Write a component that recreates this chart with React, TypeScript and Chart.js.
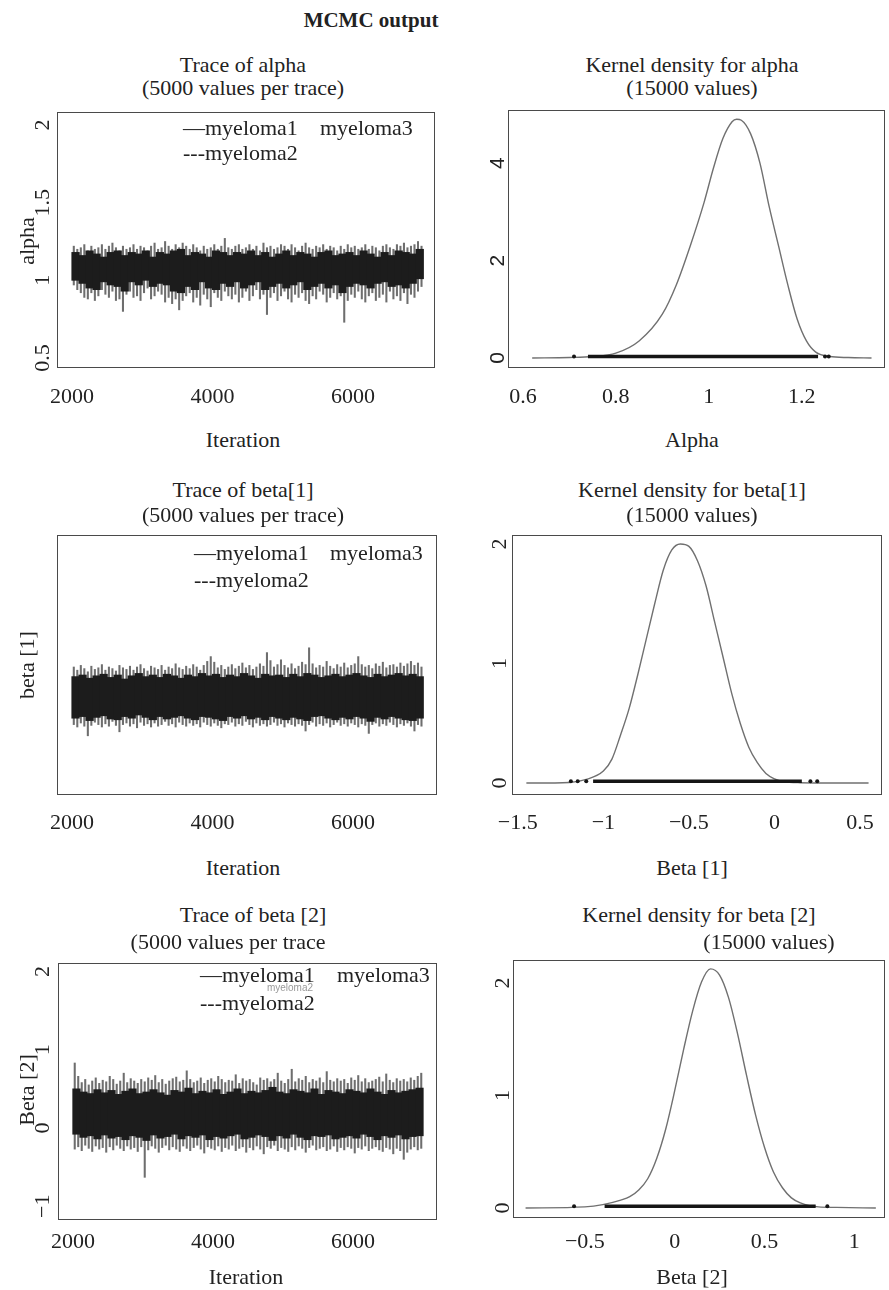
import React, { useEffect, useRef } from "react";
import { Chart, registerables } from "chart.js";

Chart.register(...registerables);

const SERIF = '"Liberation Serif", "Times New Roman", serif';
const SANS = '"Liberation Sans", Arial, sans-serif';

// ---------- trace panels ----------
// core band: 50 bins of 100 iterations; spikes: 100 bins of 50 iterations
const coreBins: number[] = Array.from({ length: 50 }, (_, i) => 2050 + 100 * i);
const spikeBins: number[] = Array.from({ length: 100 }, (_, i) => 2025 + 50 * i);
const traceXTicks = [2000, 4000, 6000];
const traceXTickLabels = ["2000", "4000", "6000"];

// alpha
const alphaSpikeHi = [1.22,1.20,1.21,1.23,1.19,1.22,1.20,1.21,1.23,1.20,1.22,1.24,1.21,1.19,1.22,1.20,1.21,1.23,1.20,1.22,
  1.21,1.19,1.22,1.24,1.20,1.21,1.25,1.22,1.20,1.23,1.21,1.24,1.22,1.20,1.23,1.21,1.19,1.22,1.20,1.21,
  1.23,1.20,1.22,1.27,1.21,1.20,1.22,1.23,1.20,1.21,1.23,1.20,1.22,1.19,1.24,1.21,1.22,1.20,1.21,1.23,
  1.22,1.20,1.23,1.21,1.19,1.22,1.24,1.21,1.20,1.22,1.21,1.23,1.20,1.22,1.21,1.19,1.22,1.20,1.23,1.21,
  1.22,1.20,1.21,1.23,1.20,1.22,1.21,1.19,1.22,1.23,1.21,1.20,1.23,1.22,1.24,1.21,1.22,1.23,1.25,1.22];
const alphaSpikeLo = [0.97,0.94,0.92,0.89,0.88,0.92,0.87,0.90,0.94,0.91,0.89,0.93,0.87,0.88,0.80,0.91,0.93,0.89,0.90,0.87,
  0.92,0.95,0.88,0.90,0.93,0.91,0.86,0.89,0.85,0.88,0.81,0.87,0.90,0.92,0.86,0.89,0.84,0.91,0.88,0.83,
  0.92,0.89,0.87,0.93,0.90,0.88,0.91,0.86,0.89,0.93,0.87,0.90,0.94,0.88,0.91,0.78,0.89,0.92,0.87,0.90,
  0.93,0.88,0.86,0.91,0.89,0.92,0.87,0.85,0.90,0.88,0.93,0.91,0.86,0.89,0.92,0.88,0.90,0.73,0.87,0.91,
  0.89,0.93,0.88,0.86,0.90,0.92,0.87,0.89,0.91,0.86,0.93,0.88,0.90,0.87,0.92,0.85,0.91,0.89,0.93,0.96];
const alphaCoreHi = [1.18,1.16,1.19,1.17,1.15,1.18,1.19,1.16,1.18,1.17,1.19,1.15,1.18,1.17,1.19,1.20,1.16,1.18,1.17,1.15,1.19,1.18,1.16,1.18,1.17,1.19,1.16,1.18,1.15,1.17,1.19,1.16,1.18,1.17,1.15,1.18,1.19,1.16,1.17,1.18,1.16,1.19,1.17,1.15,1.18,1.16,1.19,1.18,1.17,1.20];
const alphaCoreLo = [1.00,0.98,0.95,0.94,0.99,0.97,0.96,0.93,0.99,0.97,1.00,0.96,0.98,0.97,0.93,0.92,0.96,0.94,0.99,0.95,0.94,0.98,0.96,0.99,0.95,0.97,0.99,0.94,0.96,0.98,0.95,0.97,0.99,0.94,0.96,0.98,0.95,0.97,0.92,0.96,0.98,0.97,0.95,0.98,0.99,0.96,0.97,0.95,0.98,1.01];

// beta[1]
const beta1SpikeHi = [-0.12,-0.16,-0.10,-0.14,-0.18,-0.11,-0.15,-0.13,-0.09,-0.16,-0.12,-0.14,-0.17,-0.10,-0.13,-0.15,-0.11,-0.16,-0.12,-0.09,
  -0.14,-0.17,-0.11,-0.13,-0.15,-0.10,-0.16,-0.12,-0.14,-0.08,-0.13,-0.15,-0.11,-0.14,-0.09,-0.12,-0.16,-0.10,-0.05,0.01,
  -0.06,-0.13,-0.10,-0.15,-0.12,-0.09,-0.14,-0.11,-0.07,-0.13,-0.10,-0.15,-0.12,-0.08,-0.11,0.06,-0.04,-0.12,-0.09,-0.03,
  -0.10,-0.13,-0.08,-0.14,-0.11,-0.06,-0.09,0.12,-0.08,-0.13,-0.10,-0.12,-0.05,-0.11,-0.14,-0.09,-0.12,-0.07,-0.13,-0.10,
  -0.08,0.01,-0.09,-0.12,-0.10,-0.14,-0.08,-0.11,-0.06,-0.13,-0.10,-0.09,-0.12,-0.07,-0.11,-0.08,-0.05,-0.10,-0.07,-0.12];
const beta1SpikeLo = [-0.84,-0.87,-0.82,-0.86,-0.98,-0.85,-0.81,-0.84,-0.87,-0.83,-0.86,-0.80,-0.85,-0.93,-0.84,-0.82,-0.86,-0.83,-0.88,-0.81,
  -0.85,-0.83,-0.87,-0.82,-0.86,-0.84,-0.80,-0.85,-0.83,-0.87,-0.81,-0.84,-0.86,-0.82,-0.85,-0.83,-0.87,-0.81,-0.84,-0.86,
  -0.82,-0.85,-0.88,-0.83,-0.84,-0.81,-0.86,-0.83,-0.85,-0.80,-0.84,-0.87,-0.82,-0.85,-0.83,-0.86,-0.84,-0.81,-0.85,-0.83,
  -0.87,-0.82,-0.84,-0.86,-0.83,-0.85,-0.92,-0.84,-0.81,-0.86,-0.83,-0.85,-0.82,-0.87,-0.84,-0.81,-0.85,-0.83,-0.86,-0.82,
  -0.84,-0.87,-0.83,-0.85,-0.95,-0.84,-0.82,-0.86,-0.83,-0.85,-0.81,-0.84,-0.87,-0.83,-0.85,-0.82,-0.86,-0.92,-0.84,-0.86];
const beta1CoreHi = [-0.24,-0.22,-0.26,-0.23,-0.21,-0.25,-0.22,-0.27,-0.23,-0.20,-0.24,-0.22,-0.25,-0.21,-0.23,-0.26,-0.22,-0.24,-0.20,-0.23,-0.21,-0.25,-0.22,-0.24,-0.20,-0.23,-0.26,-0.21,-0.23,-0.22,-0.25,-0.21,-0.24,-0.20,-0.22,-0.25,-0.23,-0.21,-0.24,-0.22,-0.20,-0.23,-0.25,-0.21,-0.24,-0.22,-0.20,-0.23,-0.21,-0.24];
const beta1CoreLo = [-0.76,-0.74,-0.79,-0.75,-0.73,-0.77,-0.78,-0.74,-0.76,-0.72,-0.75,-0.78,-0.74,-0.77,-0.75,-0.73,-0.76,-0.78,-0.74,-0.75,-0.77,-0.79,-0.74,-0.76,-0.73,-0.77,-0.75,-0.78,-0.74,-0.76,-0.78,-0.75,-0.77,-0.79,-0.74,-0.73,-0.76,-0.78,-0.75,-0.77,-0.74,-0.76,-0.80,-0.75,-0.77,-0.74,-0.76,-0.78,-0.79,-0.76];

// beta[2]
const beta2SpikeHi = [0.83,0.66,0.58,0.62,0.55,0.60,0.64,0.57,0.61,0.59,0.66,0.62,0.56,0.60,0.70,0.58,0.63,0.60,0.57,0.62,
  0.59,0.64,0.61,0.67,0.58,0.62,0.56,0.60,0.63,0.65,0.59,0.61,0.73,0.62,0.58,0.60,0.64,0.57,0.61,0.63,
  0.59,0.66,0.62,0.58,0.61,0.60,0.68,0.57,0.63,0.60,0.62,0.58,0.55,0.64,0.61,0.63,0.59,0.62,0.70,0.60,
  0.57,0.62,0.75,0.59,0.63,0.61,0.66,0.58,0.62,0.60,0.64,0.58,0.72,0.61,0.59,0.63,0.60,0.62,0.57,0.64,
  0.61,0.67,0.59,0.63,0.58,0.60,0.62,0.65,0.59,0.69,0.61,0.58,0.63,0.60,0.62,0.59,0.64,0.61,0.66,0.70];
const beta2SpikeLo = [-0.27,-0.24,-0.29,-0.22,-0.26,-0.30,-0.23,-0.27,-0.25,-0.31,-0.24,-0.28,-0.22,-0.26,-0.29,-0.23,-0.27,-0.25,-0.30,-0.24,
  -0.63,-0.28,-0.23,-0.26,-0.31,-0.25,-0.22,-0.28,-0.24,-0.27,-0.30,-0.23,-0.26,-0.29,-0.25,-0.22,-0.27,-0.32,-0.24,-0.26,
  -0.28,-0.23,-0.30,-0.25,-0.27,-0.22,-0.29,-0.26,-0.24,-0.31,-0.25,-0.28,-0.23,-0.27,-0.33,-0.24,-0.26,-0.22,-0.29,-0.25,
  -0.27,-0.30,-0.24,-0.28,-0.23,-0.26,-0.31,-0.25,-0.22,-0.28,-0.26,-0.24,-0.29,-0.27,-0.23,-0.30,-0.25,-0.28,-0.24,-0.26,
  -0.32,-0.25,-0.27,-0.23,-0.29,-0.26,-0.24,-0.28,-0.30,-0.25,-0.27,-0.33,-0.26,-0.29,-0.40,-0.31,-0.27,-0.24,-0.28,-0.26];
const beta2CoreHi = [0.50,0.46,0.44,0.49,0.45,0.48,0.43,0.47,0.50,0.44,0.46,0.49,0.45,0.42,0.48,0.46,0.51,0.44,0.47,0.45,0.49,0.43,0.46,0.50,0.44,0.47,0.45,0.48,0.52,0.46,0.44,0.49,0.47,0.45,0.50,0.43,0.48,0.46,0.44,0.49,0.47,0.45,0.50,0.46,0.43,0.48,0.45,0.47,0.49,0.51];
const beta2CoreLo = [-0.08,-0.12,-0.10,-0.14,-0.09,-0.13,-0.11,-0.15,-0.10,-0.12,-0.16,-0.09,-0.13,-0.11,-0.08,-0.14,-0.10,-0.12,-0.09,-0.15,-0.11,-0.13,-0.10,-0.08,-0.14,-0.12,-0.09,-0.11,-0.16,-0.10,-0.13,-0.08,-0.12,-0.15,-0.10,-0.11,-0.09,-0.14,-0.12,-0.10,-0.13,-0.08,-0.11,-0.15,-0.10,-0.12,-0.09,-0.14,-0.11,-0.10];

// ---------- kernel densities ----------
const alphaDensX = [0.62,0.70,0.75,0.80,0.85,0.90,0.93,0.96,0.99,1.01,1.03,1.05,1.06,1.07,1.09,1.11,1.13,1.15,1.17,1.19,1.21,1.23,1.26,1.30,1.35];
const alphaDensY = [0.00,0.01,0.03,0.10,0.35,0.90,1.50,2.30,3.20,3.90,4.50,4.85,4.90,4.88,4.60,4.00,3.10,2.30,1.50,0.80,0.35,0.12,0.03,0.01,0.00];
const alphaRug = [0.74, 1.235];
const alphaRugDots = [0.71, 1.25, 1.258];
const alphaXTicks = [0.6, 0.8, 1, 1.2];
const alphaXTickLabels = ["0.6", "0.8", "1", "1.2"];

const beta1DensX = [-1.45,-1.20,-1.10,-1.00,-0.95,-0.90,-0.85,-0.80,-0.75,-0.70,-0.65,-0.60,-0.55,-0.50,-0.45,-0.40,-0.35,-0.30,-0.25,-0.20,-0.15,-0.10,-0.05,0.00,0.05,0.15,0.55];
const beta1DensY = [0.00,0.005,0.03,0.10,0.20,0.40,0.62,0.90,1.20,1.50,1.78,1.95,2.00,1.98,1.86,1.65,1.35,1.05,0.75,0.50,0.30,0.17,0.08,0.035,0.012,0.003,0.00];
const beta1Rug = [-1.06, 0.16];
const beta1RugDots = [-1.19, -1.15, -1.10, 0.21, 0.25];
const beta1XTicks = [-1.5, -1, -0.5, 0, 0.5];
const beta1XTickLabels = ["\u22121.5", "\u22121", "\u22120.5", "0", "0.5"];

const beta2DensX = [-0.83,-0.50,-0.40,-0.30,-0.25,-0.20,-0.15,-0.10,-0.05,0.00,0.05,0.10,0.15,0.20,0.25,0.30,0.35,0.40,0.45,0.50,0.55,0.60,0.65,0.70,0.75,0.80,0.90,1.12];
const beta2DensY = [0.00,0.01,0.03,0.07,0.10,0.16,0.26,0.44,0.70,1.04,1.41,1.75,2.01,2.125,2.07,1.87,1.55,1.18,0.83,0.54,0.32,0.18,0.09,0.045,0.02,0.01,0.005,0.00];
const beta2Rug = [-0.39, 0.785];
const beta2RugDots = [-0.56, 0.85];
const beta2XTicks = [-0.5, 0, 0.5, 1];
const beta2XTickLabels = ["\u22120.5", "0", "0.5", "1"];

function framePlugin(yTicks: number[], yLabels: string[], offset: number, font: string) {
  return {
    id: "frame",
    afterDraw(chart: any) {
      const { ctx, chartArea } = chart;
      const ys = chart.scales.y;
      ctx.save();
      ctx.strokeStyle = "#4a4a4a";
      ctx.lineWidth = 1;
      ctx.strokeRect(
        Math.round(chartArea.left) + 0.5,
        Math.round(chartArea.top) + 0.5,
        Math.round(chartArea.right - chartArea.left) - 1,
        Math.round(chartArea.bottom - chartArea.top) - 1
      );
      ctx.fillStyle = "#222";
      ctx.font = font;
      ctx.textAlign = "center";
      ctx.textBaseline = "middle";
      yTicks.forEach((v, i) => {
        const y = ys.getPixelForValue(v);
        ctx.save();
        ctx.translate(chartArea.left - offset, y);
        ctx.rotate(-Math.PI / 2);
        ctx.fillText(yLabels[i], 0, 0);
        ctx.restore();
      });
      ctx.restore();
    },
  };
}

function xScale(min: number, max: number, ticks: number[], labels: string[], axisH: number, pad: number) {
  return {
    type: "linear",
    min,
    max,
    offset: false,
    grid: { display: false, drawTicks: false, offset: false },
    border: { display: false },
    afterBuildTicks: (s: any) => {
      s.ticks = ticks.map((v) => ({ value: v }));
    },
    afterFit: (s: any) => {
      s.height = axisH;
    },
    ticks: {
      padding: pad,
      color: "#222",
      font: { family: SERIF, size: 22 },
      maxRotation: 0,
      autoSkip: false,
      callback: (_v: any, i: number) => labels[i],
    },
  };
}

type TraceSpec = {
  hi: number[]; lo: number[]; coreHi: number[]; coreLo: number[];
  xMin: number; xMax: number; yMin: number; yMax: number;
  pad: { left: number; top: number; right: number };
  axisH: number; tickPad: number;
  yTicks: number[]; yLabels: string[]; yOff: number;
};

function traceConfig(p: TraceSpec): any {
  const spikes = spikeBins.map((b, i) => ({ x: b, y: [p.lo[i], p.hi[i]] }));
  const core = coreBins.map((b, i) => ({ x: b, y: [p.coreLo[i], p.coreHi[i]] }));
  return {
    type: "bar",
    data: {
      datasets: [
        { label: "core", data: core, backgroundColor: "#1c1c1c", borderWidth: 0, barThickness: 7.6, grouped: false, order: 1 },
        { label: "spikes", data: spikes, backgroundColor: "#6e6e6e", borderWidth: 0, barThickness: 1.4, grouped: false, order: 2 },
      ],
    },
    options: {
      responsive: false,
      animation: false,
      events: [],
      layout: { padding: { left: p.pad.left, top: p.pad.top, right: p.pad.right, bottom: 0 } },
      plugins: { legend: { display: false }, tooltip: { enabled: false } },
      scales: {
        x: xScale(p.xMin, p.xMax, traceXTicks, traceXTickLabels, p.axisH, p.tickPad),
        y: { display: false, min: p.yMin, max: p.yMax, beginAtZero: false },
      },
    },
    plugins: [framePlugin(p.yTicks, p.yLabels, p.yOff, `22px ${SERIF}`)],
  };
}

type DensSpec = {
  xs: number[]; ys: number[]; rug: number[]; dots: number[]; rugY: number;
  xMin: number; xMax: number; yMin: number; yMax: number;
  xTicks: number[]; xLabels: string[];
  pad: { left: number; top: number; right: number };
  axisH: number; tickPad: number;
  yTicks: number[]; yLabels: string[]; yOff: number; yFont: string;
};

function densityConfig(p: DensSpec): any {
  return {
    type: "line",
    data: {
      datasets: [
        { label: "rug", data: [{ x: p.rug[0], y: p.rugY }, { x: p.rug[1], y: p.rugY }], borderColor: "#151515", borderWidth: 3.5, pointRadius: 0, order: 0 },
        { label: "rug points", data: p.dots.map((x) => ({ x, y: p.rugY })), showLine: false, pointRadius: 2, pointBackgroundColor: "#151515", pointBorderWidth: 0, order: 0 },
        { label: "density", data: p.xs.map((x, i) => ({ x, y: p.ys[i] })), borderColor: "#707070", borderWidth: 1.4, pointRadius: 0, cubicInterpolationMode: "monotone", fill: false, order: 1 },
      ],
    },
    options: {
      responsive: false,
      animation: false,
      events: [],
      layout: { padding: { left: p.pad.left, top: p.pad.top, right: p.pad.right, bottom: 0 } },
      plugins: { legend: { display: false }, tooltip: { enabled: false } },
      scales: {
        x: xScale(p.xMin, p.xMax, p.xTicks, p.xLabels, p.axisH, p.tickPad),
        y: { display: false, min: p.yMin, max: p.yMax },
      },
    },
    plugins: [framePlugin(p.yTicks, p.yLabels, p.yOff, p.yFont)],
  };
}

function ChartCanvas({ left, top, width, height, make }: { left: number; top: number; width: number; height: number; make: () => any }) {
  const ref = useRef<HTMLCanvasElement>(null);
  useEffect(() => {
    const chart = new Chart(ref.current as HTMLCanvasElement, make());
    return () => chart.destroy();
  }, []);
  return (
    <canvas
      ref={ref}
      width={width}
      height={height}
      style={{ position: "absolute", left, top, width, height }}
    />
  );
}

function Txt({ x, y, children, size = 22, bold = false, rotate = false, anchor = "center", color = "#222", family = SERIF }: any) {
  const tx = anchor === "center" ? "-50%" : "0";
  return (
    <div
      style={{
        position: "absolute",
        left: x,
        top: y,
        transform: `translate(${tx}, -50%)${rotate ? " rotate(-90deg)" : ""}`,
        fontFamily: family,
        fontSize: size,
        fontWeight: bold ? "bold" : "normal",
        color,
        whiteSpace: "nowrap",
        lineHeight: 1,
        zIndex: 2,
      }}
    >
      {children}
    </div>
  );
}

function Legend({ x, y1, y2, x3 }: { x: number; y1: number; y2: number; x3: number }) {
  return (
    <>
      <Txt x={x} y={y1} anchor="left">{"\u2014myeloma1"}</Txt>
      <Txt x={x3} y={y1} anchor="left">myeloma3</Txt>
      <Txt x={x} y={y2} anchor="left">---myeloma2</Txt>
    </>
  );
}

export default function App() {
  return (
    <div style={{ position: "absolute", left: 0, top: 0, width: 889, height: 1290, background: "#fff", overflow: "hidden" }}>
      <Txt x={371} y={20} bold size={21}>MCMC output</Txt>

      {/* Row 1 */}
      <Txt x={243} y={65}>Trace of alpha</Txt>
      <Txt x={243} y={88}>(5000 values per trace)</Txt>
      <Txt x={692} y={65}>Kernel density for alpha</Txt>
      <Txt x={692} y={88}>(15000 values)</Txt>
      <ChartCanvas
        left={0} top={100} width={444} height={320}
        make={() => traceConfig({
          hi: alphaSpikeHi, lo: alphaSpikeLo, coreHi: alphaCoreHi, coreLo: alphaCoreLo,
          xMin: 1786, xMax: 7167, yMin: 0.4356, yMax: 2.0837,
          pad: { left: 57, top: 12, right: 9 }, axisH: 52, tickPad: 16,
          yTicks: [0.5, 1, 1.5, 2], yLabels: ["0.5", "1", "1.5", "2"], yOff: 14,
        })}
      />
      <ChartCanvas
        left={448} top={100} width={441} height={320}
        make={() => densityConfig({
          xs: alphaDensX, ys: alphaDensY, rug: alphaRug, dots: alphaRugDots, rugY: 0.03,
          xMin: 0.568, xMax: 1.379, yMin: -0.205, yMax: 5.09,
          xTicks: alphaXTicks, xLabels: alphaXTickLabels,
          pad: { left: 60, top: 10, right: 2 }, axisH: 52, tickPad: 16,
          yTicks: [0, 2, 4], yLabels: ["0", "2", "4"], yOff: 10, yFont: `21px ${SANS}`,
        })}
      />
      <Legend x={183} y1={128} y2={153} x3={320} />
      <Txt x={27} y={241} rotate>alpha</Txt>
      <Txt x={243} y={440}>Iteration</Txt>
      <Txt x={692} y={440}>Alpha</Txt>

      {/* Row 2 */}
      <Txt x={243} y={490}>Trace of beta[1]</Txt>
      <Txt x={243} y={515}>(5000 values per trace)</Txt>
      <Txt x={692} y={490}>Kernel density for beta[1]</Txt>
      <Txt x={692} y={515}>(15000 values)</Txt>
      <ChartCanvas
        left={0} top={525} width={444} height={320}
        make={() => traceConfig({
          hi: beta1SpikeHi, lo: beta1SpikeLo, coreHi: beta1CoreHi, coreLo: beta1CoreLo,
          xMin: 1786, xMax: 7196, yMin: -1.72, yMax: 1.53,
          pad: { left: 57, top: 10, right: 7 }, axisH: 50, tickPad: 15,
          yTicks: [], yLabels: [], yOff: 14,
        })}
      />
      <ChartCanvas
        left={448} top={525} width={441} height={320}
        make={() => densityConfig({
          xs: beta1DensX, ys: beta1DensY, rug: beta1Rug, dots: beta1RugDots, rugY: 0.015,
          xMin: -1.534, xMax: 0.626, yMin: -0.1, yMax: 2.075,
          xTicks: beta1XTicks, xLabels: beta1XTickLabels,
          pad: { left: 64, top: 10, right: 1 }, axisH: 50, tickPad: 15,
          yTicks: [0, 1, 2], yLabels: ["0", "1", "2"], yOff: 12, yFont: `22px ${SERIF}`,
        })}
      />
      <Legend x={194} y1={553} y2={580} x3={330} />
      <Txt x={27} y={665} rotate>beta [1]</Txt>
      <Txt x={243} y={868}>Iteration</Txt>
      <Txt x={692} y={868}>Beta [1]</Txt>

      {/* Row 3 */}
      <Txt x={253} y={915}>Trace of beta [2]</Txt>
      <Txt x={228} y={942}>(5000 values per trace</Txt>
      <Txt x={699} y={915}>Kernel density for beta [2]</Txt>
      <Txt x={769} y={942}>(15000 values)</Txt>
      <ChartCanvas
        left={0} top={950} width={444} height={340}
        make={() => traceConfig({
          hi: beta2SpikeHi, lo: beta2SpikeLo, coreHi: beta2CoreHi, coreLo: beta2CoreLo,
          xMin: 1786, xMax: 7200, yMin: -1.175, yMax: 2.107,
          pad: { left: 58, top: 13, right: 7 }, axisH: 70, tickPad: 9,
          yTicks: [-1, 0, 1, 2], yLabels: ["\u22121", "0", "1", "2"], yOff: 15,
        })}
      />
      <ChartCanvas
        left={448} top={950} width={441} height={340}
        make={() => densityConfig({
          xs: beta2DensX, ys: beta2DensY, rug: beta2Rug, dots: beta2RugDots, rugY: 0.015,
          xMin: -0.9, xMax: 1.171, yMin: -0.089, yMax: 2.204,
          xTicks: beta2XTicks, xLabels: beta2XTickLabels,
          pad: { left: 65, top: 10, right: 1 }, axisH: 72, tickPad: 11,
          yTicks: [0, 1, 2], yLabels: ["0", "1", "2"], yOff: 10, yFont: `22px ${SERIF}`,
        })}
      />
      <Txt x={290} y={988} size={10} family={SANS} color="#999">myeloma2</Txt>
      <Legend x={200} y1={975} y2={1003} x3={337} />
      <Txt x={27} y={1090} rotate>Beta [2]</Txt>
      <Txt x={246} y={1277}>Iteration</Txt>
      <Txt x={692} y={1277}>Beta [2]</Txt>
    </div>
  );
}
